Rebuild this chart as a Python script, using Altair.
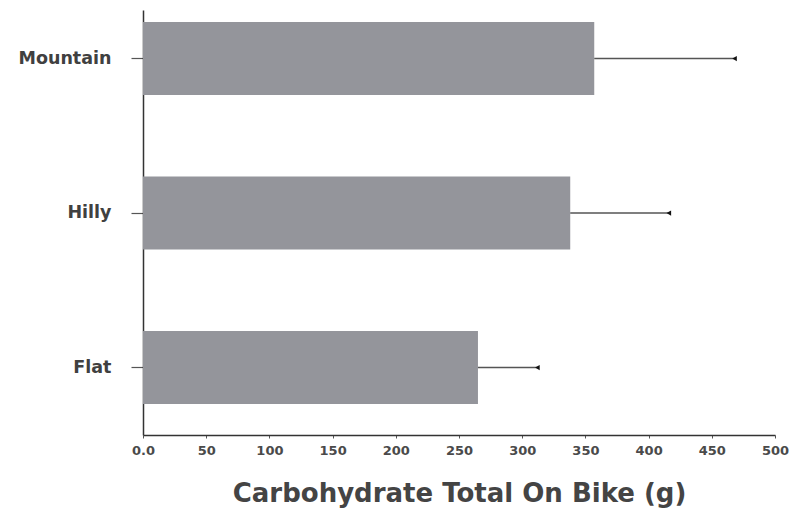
import altair as alt
import pandas as pd

# Carbohydrate carried on the bike by terrain type
terrain = ["Mountain", "Hilly", "Flat"]
carb_mean = [357, 338, 265]
carb_err = [111, 78, 47]

df = pd.DataFrame({
    "terrain": terrain,
    "mean": carb_mean,
    "upper": [m + e for m, e in zip(carb_mean, carb_err)],
})

FONT = "DejaVu Sans"

y_enc = alt.Y(
    "terrain:N",
    sort=terrain,
    title=None,
    scale=alt.Scale(paddingInner=0.527, paddingOuter=0.139, align=0.28),
    axis=alt.Axis(
        domainColor="#333333", domainWidth=1.5,
        tickColor="#555555", tickSize=12, tickWidth=1.2,
        labelFont=FONT, labelFontSize=17.5, labelFontWeight="bold",
        labelColor="#404040", labelPadding=20,
    ),
)

x_scale = alt.Scale(domain=[0, 500], nice=False)

bars = alt.Chart(df).mark_bar(color="#94959b").encode(
    y=y_enc,
    x=alt.X(
        "mean:Q",
        scale=x_scale,
        title="Carbohydrate Total On Bike (g)",
        axis=alt.Axis(
            values=list(range(0, 501, 50)),
            labelExpr="datum.value == 0 ? '0.0' : datum.label",
            labelFlush=False,
            grid=False,
            domainColor="#333333", domainWidth=1.5,
            tickColor="#555555", tickSize=3,
            labelFont=FONT, labelFontSize=13, labelFontWeight="bold",
            labelColor="#4a4a4a", labelPadding=6,
            titleFont=FONT, titleFontSize=26, titleFontWeight="bold",
            titleColor="#444444", titlePadding=23,
        ),
    ),
)

err = alt.Chart(df).mark_rule(color="#555555", strokeWidth=1.5).encode(
    y=alt.Y("terrain:N", sort=terrain),
    x=alt.X("mean:Q", scale=x_scale),
    x2="upper:Q",
)

caps = alt.Chart(df).mark_point(
    shape="triangle-left", filled=True, color="#111111", size=28, opacity=1
).encode(
    y=alt.Y("terrain:N", sort=terrain),
    x=alt.X("upper:Q", scale=x_scale),
)

chart = (
    (bars + err + caps)
    .properties(
        width=632,
        height=425,
        autosize=alt.AutoSizeParams(type="none"),
        padding={"left": 143, "top": 10, "right": 18, "bottom": 75},
        background="white",
    )
    .configure_view(stroke=None)
)

chart.save("out.html", embed_options={"renderer": "svg", "actions": False})
